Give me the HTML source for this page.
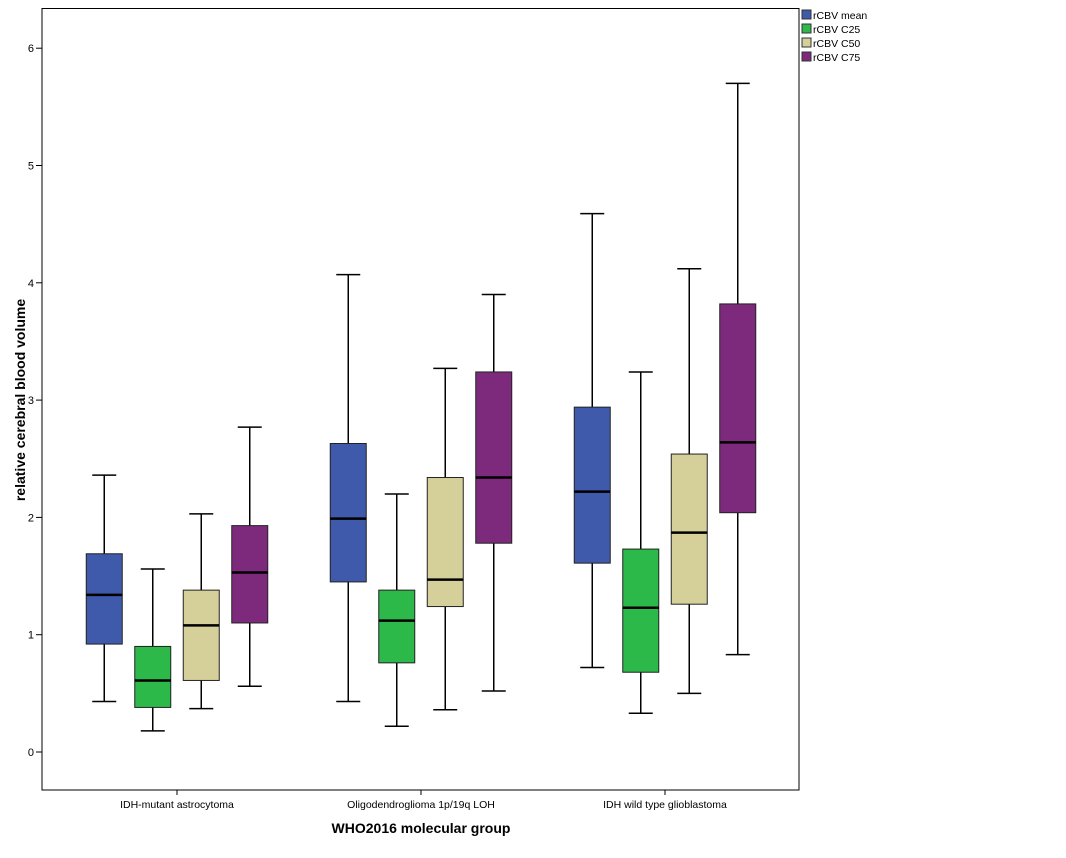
<!DOCTYPE html>
<html><head><meta charset="utf-8"><style>
body{margin:0;background:#fff;}
svg text{font-family:"Liberation Sans",Arial,sans-serif;}
</style></head><body>
<svg id="chart" width="1066" height="853" xmlns="http://www.w3.org/2000/svg">
<rect x="0" y="0" width="1066" height="853" fill="#fff"/>
<g id="marks"></g>
<rect x="42" y="8.5" width="757" height="781.5" fill="none" stroke="#000" stroke-width="1"/>
<g id="axes"></g>
<text x="421" y="833" font-size="14" font-weight="bold" text-anchor="middle">WHO2016 molecular group</text>
<text transform="translate(25,400) rotate(-90)" font-size="14" font-weight="bold" text-anchor="middle">relative cerebral blood volume</text>
<g id="legend"></g>
</svg>
<script>
const categories=["IDH-mutant astrocytoma","Oligodendroglioma 1p/19q LOH","IDH wild type glioblastoma"];
const seriesNames=["rCBV mean","rCBV C25","rCBV C50","rCBV C75"];
const seriesColors=["#3f5aab","#2db84a","#d5d09a","#7d2a7c"];
const yTicks=[0,1,2,3,4,5,6];
// [low, q1, median, q3, high] per category
const rcbvMean=[[0.43,0.92,1.34,1.69,2.36],[0.43,1.45,1.99,2.63,4.07],[0.72,1.61,2.22,2.94,4.59]];
const rcbvC25=[[0.18,0.38,0.61,0.90,1.56],[0.22,0.76,1.12,1.38,2.20],[0.33,0.68,1.23,1.73,3.24]];
const rcbvC50=[[0.37,0.61,1.08,1.38,2.03],[0.36,1.24,1.47,2.34,3.27],[0.50,1.26,1.87,2.54,4.12]];
const rcbvC75=[[0.56,1.10,1.53,1.93,2.77],[0.52,1.78,2.34,3.24,3.90],[0.83,2.04,2.64,3.82,5.70]];
const allSeries=[rcbvMean,rcbvC25,rcbvC50,rcbvC75];

const NS="http://www.w3.org/2000/svg";
function y(v){return 752-117.3*v;}
function xCat(i){return 177+244*i;}
function xBox(i,s){return xCat(i)+(s-1.5)*48.5;}
function mk(tag,attrs,parent){const e=document.createElementNS(NS,tag);for(const k in attrs)e.setAttribute(k,attrs[k]);parent.appendChild(e);return e;}
const marks=document.getElementById('marks'),axes=document.getElementById('axes'),legend=document.getElementById('legend');
const bw=36,cap=12;
allSeries.forEach((ser,s)=>{ser.forEach((d,i)=>{
  const cx=xBox(i,s);
  const g=mk('g',{},marks);
  
  
  mk('line',{x1:cx,x2:cx,y1:y(d[4]),y2:y(d[0]),stroke:'#000','stroke-width':1.5},g);
  mk('line',{x1:cx-cap,x2:cx+cap,y1:y(d[4]),y2:y(d[4]),stroke:'#000','stroke-width':1.5},g);
  mk('line',{x1:cx-cap,x2:cx+cap,y1:y(d[0]),y2:y(d[0]),stroke:'#000','stroke-width':1.5},g);
  mk('rect',{x:cx-bw/2,y:y(d[3]),width:bw,height:y(d[1])-y(d[3]),fill:seriesColors[s],stroke:'#222','stroke-width':1},g);
  mk('line',{x1:cx-bw/2,x2:cx+bw/2,y1:y(d[2]),y2:y(d[2]),stroke:'#000','stroke-width':2.5},g);
});});
yTicks.forEach(t=>{
  const l=mk('line',{x1:36,x2:42,y1:y(t),y2:y(t),stroke:'#000'},axes);
  
  
  const tx=mk('text',{x:34,y:y(t)+4,'font-size':11,'text-anchor':'end'},axes);
  tx.textContent=t;
  
  
});
categories.forEach((c,i)=>{
  const l=mk('line',{x1:xCat(i),x2:xCat(i),y1:790,y2:795,stroke:'#000'},axes);
  
  
  const tx=mk('text',{x:xCat(i),y:808,'font-size':10.5,'text-anchor':'middle'},axes);
  tx.textContent=c;
  
  
});
seriesNames.forEach((n,s)=>{
  const g=mk('g',{},legend);
  
  
  mk('rect',{x:802,y:10+s*14,width:9,height:9,fill:seriesColors[s],stroke:'#333','stroke-width':1},g);
  const tx=mk('text',{x:813,y:19+s*14,'font-size':10.5},g);
  tx.textContent=n;
});
</script>
</body></html>
